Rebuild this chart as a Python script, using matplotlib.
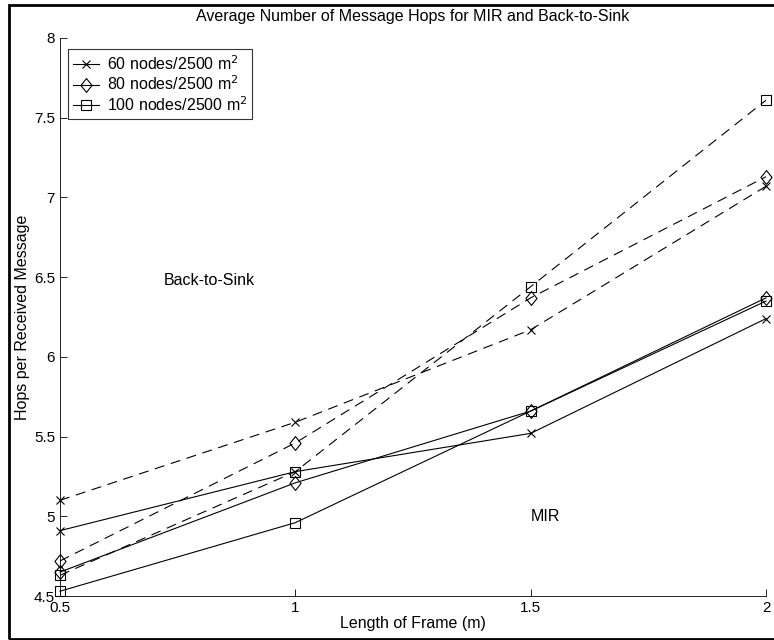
import matplotlib
matplotlib.use("Agg")
import matplotlib.pyplot as plt
from matplotlib.patches import Rectangle
from matplotlib.path import Path

plt.rcParams['font.family'] = ['Liberation Sans', 'DejaVu Sans']

frame_len = [0.5, 1.0, 1.5, 2.0]

# MIR (solid)
mir_60 = [4.91, 5.28, 5.52, 6.24]
mir_80 = [4.65, 5.21, 5.66, 6.37]
mir_100 = [4.53, 4.96, 5.66, 6.35]

# Back-to-Sink (dashed)
bts_60 = [5.10, 5.59, 6.17, 7.07]
bts_80 = [4.72, 5.46, 6.37, 7.13]
bts_100 = [4.63, 5.28, 6.44, 7.61]

labels = ["60 nodes/2500 m$^2$", "80 nodes/2500 m$^2$", "100 nodes/2500 m$^2$"]

# matlab-ish diamond, a bit narrower than tall
diamond = Path([(0, 1), (0.8, 0), (0, -1), (-0.8, 0), (0, 1)],
               [Path.MOVETO, Path.LINETO, Path.LINETO, Path.LINETO, Path.CLOSEPOLY])
markers = ["x", diamond, "s"]
msizes = [6, 10, 6.5]

fig = plt.figure(figsize=(7.74, 6.40), dpi=100)
ax = fig.add_axes([0.0775, 0.06875, 0.9122, 0.8719])

# figure border (right side runs off the image)
fig.patches.append(Rectangle((9 / 774, 1 / 640), 1.0, 634 / 640, transform=fig.transFigure,
                             fill=False, edgecolor='black', linewidth=2))

handles = []
for ys, m, ms, lab in zip([mir_60, mir_80, mir_100], markers, msizes, labels):
    h, = ax.plot(frame_len, ys, color='black', linewidth=0.8, marker=m,
                 markersize=ms, fillstyle='none', markeredgewidth=0.8,
                 label=lab, clip_on=False)
    handles.append(h)

for ys, m, ms in zip([bts_60, bts_80, bts_100], markers, msizes):
    ax.plot(frame_len, ys, color='black', linewidth=0.8, linestyle=(0, (9, 6)),
            marker=m, markersize=ms, fillstyle='none', markeredgewidth=0.8,
            clip_on=False)

ax.set_xlim(0.5, 2)
ax.set_ylim(4.5, 8)
ax.set_xticks([0.5, 1, 1.5, 2])
ax.set_xticklabels(["0.5", "1", "1.5", "2"])
ax.set_yticks([4.5, 5, 5.5, 6, 6.5, 7, 7.5, 8])
ax.set_yticklabels(["4.5", "5", "5.5", "6", "6.5", "7", "7.5", "8"])
ax.tick_params(direction='in', length=5, width=0.6, labelsize=11)
ax.spines['top'].set_visible(False)
ax.spines['right'].set_visible(False)
ax.spines['left'].set_linewidth(0.6)
ax.spines['bottom'].set_linewidth(0.6)

ax.set_xlabel("Length of Frame (m)", fontsize=11.5, labelpad=1)
ax.set_ylabel("Hops per Received Message", fontsize=11.5, labelpad=3)
ax.set_title("Average Number of Message Hops for MIR and Back-to-Sink", fontsize=11.5, pad=12)

ax.text(0.72, 6.48, "Back-to-Sink", fontsize=11.5, va='center', ha='left')
ax.text(1.5, 5.0, "MIR", fontsize=11.5, va='center', ha='left')

leg = ax.legend(handles=handles, loc='upper left', bbox_to_anchor=(0.012, 0.98),
                borderaxespad=0, fontsize=11.5, frameon=True, fancybox=False,
                edgecolor='black', handlelength=1.6, borderpad=0.3,
                labelspacing=0.12, handletextpad=0.5)
leg.get_frame().set_linewidth(0.8)

fig.savefig("out.png", dpi=100)
